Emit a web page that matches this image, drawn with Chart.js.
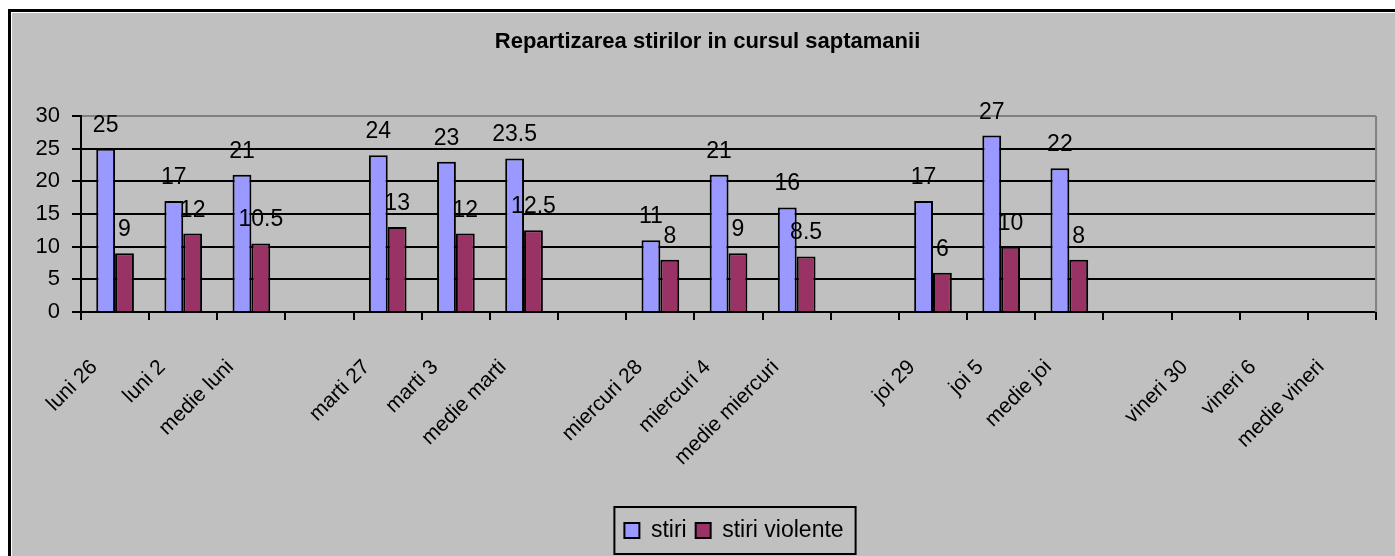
<!DOCTYPE html>
<html>
<head>
<meta charset="utf-8">
<title>Repartizarea stirilor in cursul saptamanii</title>
<script src="https://cdn.jsdelivr.net/npm/chart.js@4.4.1/dist/chart.umd.min.js"></script>
<style>
  html, body { margin: 0; padding: 0; background: #fff; }
  canvas { display: block; }
</style>
</head>
<body>
<canvas id="chart" width="1395" height="556"></canvas>
<script>
const categories = [
    "luni 26", "luni 2", "medie luni", "",
    "marti 27", "marti 3", "medie marti", "",
    "miercuri 28", "miercuri 4", "medie miercuri", "",
    "joi 29", "joi 5", "medie joi", "",
    "vineri 30", "vineri 6", "medie vineri"
];
const stiri = [25, 17, 21, null, 24, 23, 23.5, null, 11, 21, 16, null, 17, 27, 22, null, null, null, null];
const stiriViolente = [9, 12, 10.5, null, 13, 12, 12.5, null, 8, 9, 8.5, null, 6, 10, 8, null, null, null, null];
const yMin = 0;
const yMax = 30;
const yStep = 5;

const FONT = '"Liberation Sans", Arial, sans-serif';

// white page, black frame, gray chart area (excel look)
const backgroundPlugin = {
    id: "background",
    beforeDraw: (chart) => {
        const ctx = chart.ctx;
        ctx.save();
        ctx.fillStyle = "#fff";
        ctx.fillRect(0, 0, chart.width, chart.height);
        ctx.fillStyle = "#000";
        ctx.fillRect(8, 9, chart.width - 8, chart.height - 9);
        ctx.fillStyle = "#fff";
        ctx.fillRect(11, 12, chart.width - 11, chart.height - 12);
        ctx.fillStyle = "#c0c0c0";
        ctx.fillRect(12, 13, chart.width - 12, chart.height - 13);
        ctx.restore();
    }
};

// move title and legend a bit to the right like in the original
const shiftPlugin = {
    id: "shift",
    afterLayout: (chart) => {
        chart.titleBlock.left += 9;
        chart.titleBlock.right += 9;
        const dx = 734 - (chart.legend.left + chart.legend.right) / 2;
        chart.legend.left += dx;
        chart.legend.right += dx;
    }
};

const plotBorderPlugin = {
    id: "plotBorder",
    beforeDatasetsDraw: (chart) => {
        const ctx = chart.ctx;
        const area = chart.chartArea;
        ctx.save();
        ctx.strokeStyle = "#808080";
        ctx.lineWidth = 2;
        ctx.beginPath();
        ctx.moveTo(area.right, area.top);
        ctx.lineTo(area.right, area.bottom);
        ctx.stroke();
        ctx.restore();
    }
};

const valueLabelsPlugin = {
    id: "valueLabels",
    afterDatasetsDraw: (chart) => {
        const ctx = chart.ctx;
        ctx.save();
        ctx.font = "23px " + FONT;
        ctx.fillStyle = "#000";
        ctx.textAlign = "center";
        ctx.textBaseline = "alphabetic";
        chart.data.datasets.forEach((dataset, i) => {
            const meta = chart.getDatasetMeta(i);
            meta.data.forEach((bar, j) => {
                const value = dataset.data[j];
                if (value === null || value === undefined) {
                    return;
                }
                ctx.fillText(String(value), bar.x, bar.y - 17);
            });
        });
        ctx.restore();
    }
};

const legendBoxPlugin = {
    id: "legendBox",
    afterDraw: (chart) => {
        const boxes = chart.legend.legendHitBoxes;
        if (!boxes || !boxes.length) {
            return;
        }
        let left = Infinity, right = -Infinity, top = Infinity, bottom = -Infinity;
        boxes.forEach((hb) => {
            left = Math.min(left, hb.left);
            right = Math.max(right, hb.left + hb.width);
            top = Math.min(top, hb.top);
            bottom = Math.max(bottom, hb.top + hb.height);
        });
        const ctx = chart.ctx;
        ctx.save();
        ctx.strokeStyle = "#000";
        ctx.lineWidth = 2;
        ctx.strokeRect(left - 10, top - 12, right - left + 22, bottom - top + 24);
        ctx.restore();
    }
};

const drawChart = () => {
    const chx = document.getElementById("chart");
    new Chart(chx, {
        type: "bar",
        data: {
            labels: categories,
            datasets: [
                {
                    label: "stiri",
                    data: stiri,
                    backgroundColor: "#9999ff",
                    borderColor: "#000",
                    borderWidth: 2,
                    categoryPercentage: 0.553,
                    barPercentage: 1
                },
                {
                    label: "stiri violente",
                    data: stiriViolente,
                    backgroundColor: "#993366",
                    borderColor: "#000",
                    borderWidth: 2,
                    categoryPercentage: 0.553,
                    barPercentage: 1
                }
            ]
        },
        options: {
            responsive: false,
            animation: false,
            devicePixelRatio: 1,
            layout: {
                padding: { left: 10, right: 8, top: 0, bottom: 4 }
            },
            plugins: {
                title: {
                    display: true,
                    text: "Repartizarea stirilor in cursul saptamanii",
                    color: "#000",
                    font: { family: FONT, size: 22, weight: "bold" },
                    padding: { top: 29, bottom: 60.6 }
                },
                legend: {
                    position: "bottom",
                    labels: {
                        color: "#000",
                        font: { family: FONT, size: 23 },
                        boxWidth: 15,
                        boxHeight: 15,
                        padding: 9
                    }
                },
                tooltip: { enabled: false }
            },
            scales: {
                x: {
                    afterFit: (scale) => { scale.height = 198; },
                    grid: {
                        offset: true,
                        drawOnChartArea: false,
                        color: "#000",
                        lineWidth: 2,
                        tickLength: 8
                    },
                    border: { color: "#000", width: 2 },
                    ticks: {
                        autoSkip: false,
                        maxRotation: 45,
                        minRotation: 45,
                        padding: 35,
                        labelOffset: -21,
                        color: "#000",
                        font: { family: FONT, size: 21 }
                    }
                },
                y: {
                    min: yMin,
                    max: yMax,
                    afterFit: (scale) => { scale.width = 71; },
                    grid: {
                        color: (c) => (c.tick && c.tick.value === yMax ? "#808080" : "#000"),
                        tickColor: "#000",
                        lineWidth: 2,
                        tickLength: 9
                    },
                    border: { color: "#000", width: 2 },
                    ticks: {
                        stepSize: yStep,
                        padding: 12,
                        color: "#000",
                        font: { family: FONT, size: 22 }
                    }
                }
            }
        },
        plugins: [backgroundPlugin, shiftPlugin, plotBorderPlugin, valueLabelsPlugin, legendBoxPlugin]
    });
};

document.addEventListener("DOMContentLoaded", () => {
    drawChart();
});
</script>
</body>
</html>
